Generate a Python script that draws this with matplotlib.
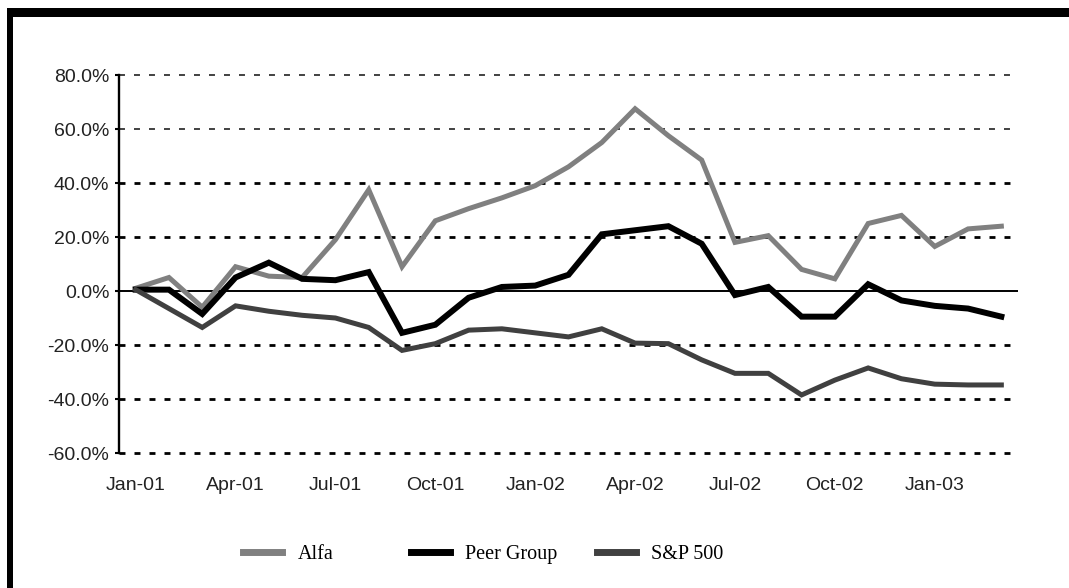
import numpy as np
import pandas as pd
import matplotlib
matplotlib.use("Agg")
import matplotlib.pyplot as plt
from matplotlib.patches import Rectangle

# cumulative return, monthly Jan-01 .. Mar-03 (percent)
months = pd.date_range("2001-01-01", "2003-03-01", freq="MS")
alfa = [1, 5, -6, 9, 5.5, 5, 19, 37.5, 9, 26, 30.5, 34.5, 39, 46, 55, 67.5,
        57.5, 48.5, 18, 20.5, 8, 4.5, 25, 28, 16.5, 23, 24]
peer = [0.5, 0.5, -8.5, 5, 10.5, 4.5, 4, 7, -15.5, -12.5, -2.5, 1.5, 2, 6,
        21, 22.5, 24, 17.5, -1.5, 1.5, -9.5, -9.5, 2.5, -3.5, -5.5, -6.5, -9.5]
sp500 = [0.5, -6.5, -13.5, -5.5, -7.5, -9, -10, -13.5, -22, -19.5, -14.5,
         -14, -15.5, -17, -14, -19.3, -19.5, -25.5, -30.5, -30.5, -38.5, -33,
         -28.5, -32.5, -34.5, -34.8, -34.8]
series_names = ["Alfa", "Peer Group", "S&P 500"]
series_colors = ["#808080", "#000000", "#404040"]
series_widths = [3.6, 4.3, 3.6]
y_ticks = [80, 60, 40, 20, 0, -20, -40, -60]

plt.rcParams["lines.scale_dashes"] = False

W, H = 1069, 588
fig = plt.figure(figsize=(W / 100, H / 100), dpi=100)
ax = fig.add_axes([119 / W, 1 - 453 / H, (1018 - 119) / W, (453 - 75) / H])

x = np.arange(len(months))
lines = []
for vals, name, col, lw in zip([alfa, peer, sp500], series_names, series_colors, series_widths):
    ln, = ax.plot(x, vals, color=col, lw=lw, label=name, solid_joinstyle="miter", zorder=3)
    lines.append(ln)

ax.axhline(0, color="black", lw=1.4, zorder=2)

ax.set_xlim(-0.5, len(months) - 0.5)
ax.set_ylim(-60, 80)
ax.set_yticks(y_ticks)
ax.set_yticklabels(["%.1f%%" % v for v in y_ticks])
ax.set_xticks(x[::3])
ax.set_xticklabels(months[::3].strftime("%b-%y"))

for s in ["top", "right", "bottom"]:
    ax.spines[s].set_visible(False)
ax.spines["left"].set_linewidth(1.7)
ax.tick_params(axis="y", length=3, width=1.5, pad=4, direction="out")
ax.tick_params(axis="x", length=0, pad=17)
for lab in ax.get_xticklabels() + ax.get_yticklabels():
    lab.set_fontfamily("Liberation Sans")
    lab.set_fontsize(14)
    lab.set_color("#222222")

ax.yaxis.grid(True, color="black", linestyle=(0, (4.3, 6.5)))
for val, gl in zip(y_ticks, ax.get_ygridlines()):
    gl.set_clip_on(False)
    if val == 0:
        gl.set_visible(False)
    elif val >= 60:
        gl.set_linewidth(1.3)
        gl.set_color("#333333")
    else:
        gl.set_linewidth(2.0)

# legend entries spaced like the original
legend_x = [243, 411, 597]
for ln, lx in zip(lines, legend_x):
    leg = fig.legend([ln], [ln.get_label()], loc="center left",
                     bbox_to_anchor=(lx / W, 1 - 554 / H), frameon=False,
                     borderpad=0, borderaxespad=0, handlelength=1.95,
                     handletextpad=0.75,
                     prop={"family": "Liberation Serif", "size": 14.5})
    for h in leg.legend_handles:
        h.set_linewidth(5)

# thick frame (top and left only visible)
fig.patches.append(Rectangle((7 / W, 1 - 17 / H), 1, 9 / H, transform=fig.transFigure,
                             facecolor="black", edgecolor="none"))
fig.patches.append(Rectangle((7 / W, -0.1), 6 / W, 1.1 - 8 / H, transform=fig.transFigure,
                             facecolor="black", edgecolor="none"))

fig.savefig("out.png", dpi=100)
